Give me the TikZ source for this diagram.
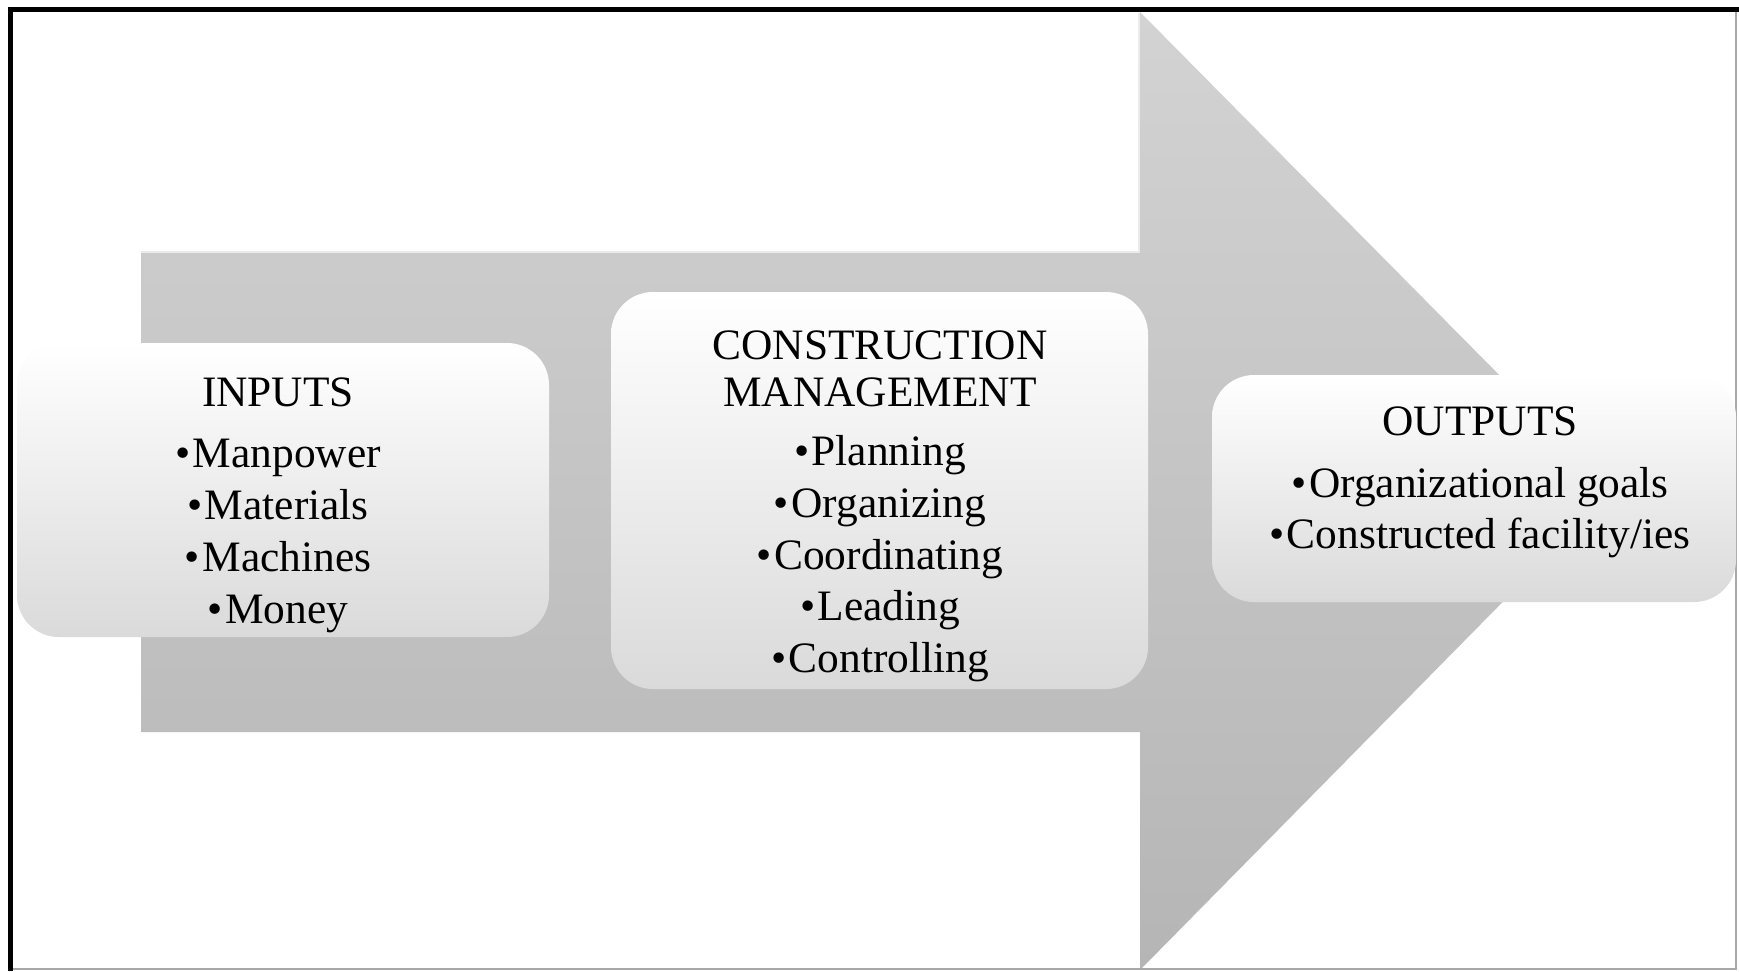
\documentclass[tikz,border=0pt]{standalone}
\usepackage{fontspec}
\setmainfont{Liberation Serif}
\definecolor{arrowtop}{HTML}{D3D3D3}
\definecolor{arrowbot}{HTML}{B5B5B5}
\definecolor{boxlow}{HTML}{DADADA}
\definecolor{edgegray}{HTML}{A8A8A8}
\newcommand{\bul}{•\hspace{1.2pt}}
\begin{document}
\begin{tikzpicture}[x=0.5pt,y=-0.5pt,
  box/.style={rectangle, rounded corners=21pt, inner sep=0pt, draw=none,
    top color=white, middle color=white, bottom color=boxlow},
  lbl/.style={anchor=base, inner sep=0pt, font=\fontsize{21.7}{26}\selectfont}]
\useasboundingbox (0,0) rectangle (1739,971);
\fill[white] (0,0) rectangle (1739,971);
% big arrow
\shade[top color=arrowtop, bottom color=arrowbot]
  (141,253) -- (1140,253) -- (1140,12) -- (1613,490) -- (1140,970)
  -- (1140,732) -- (141,732) -- cycle;
\draw[white!92!black, line width=1.4pt] (141,252) -- (1139,252) -- (1139,13);
% frame
\draw[black, line width=2.5pt] (10.5,971) -- (10.5,9.5) -- (1739,9.5);
\draw[edgegray, line width=0.6pt] (1736,12) -- (1736,969) -- (13,969);
% boxes
\node[box, minimum width=266pt, minimum height=147pt] (inbox) at (283,490) {};
\node[box, minimum width=268.5pt, minimum height=198.5pt] (cmbox) at (879.5,490.5) {};
\node[box, minimum width=262pt, minimum height=113.5pt] (outbox) at (1474,488.5) {};
% INPUTS text
\node[lbl] (in0) at (278,406) {INPUTS};
\node[lbl] (in1) at (278,467) {\bul Manpower};
\node[lbl] (in2) at (278,519) {\bul Materials};
\node[lbl] (in3) at (278,571) {\bul Machines};
\node[lbl] (in4) at (278,623) {\bul Money};
% CM text
\node[lbl] (cm0) at (880,359) {CONSTRUCTION};
\node[lbl] (cm1) at (880,406) {MANAGEMENT};
\node[lbl] (cm2) at (880,465) {\bul Planning};
\node[lbl] (cm3) at (880,517) {\bul Organizing};
\node[lbl] (cm4) at (880,569) {\bul Coordinating};
\node[lbl] (cm5) at (880,620) {\bul Leading};
\node[lbl] (cm6) at (880,672) {\bul Controlling};
% OUTPUTS text
\node[lbl] (out0) at (1480,435) {OUTPUTS};
\node[lbl] (out1) at (1480,497) {\bul Organizational goals};
\node[lbl] (out2) at (1480,548) {\bul Constructed facility/ies};
\end{tikzpicture}
\end{document}
